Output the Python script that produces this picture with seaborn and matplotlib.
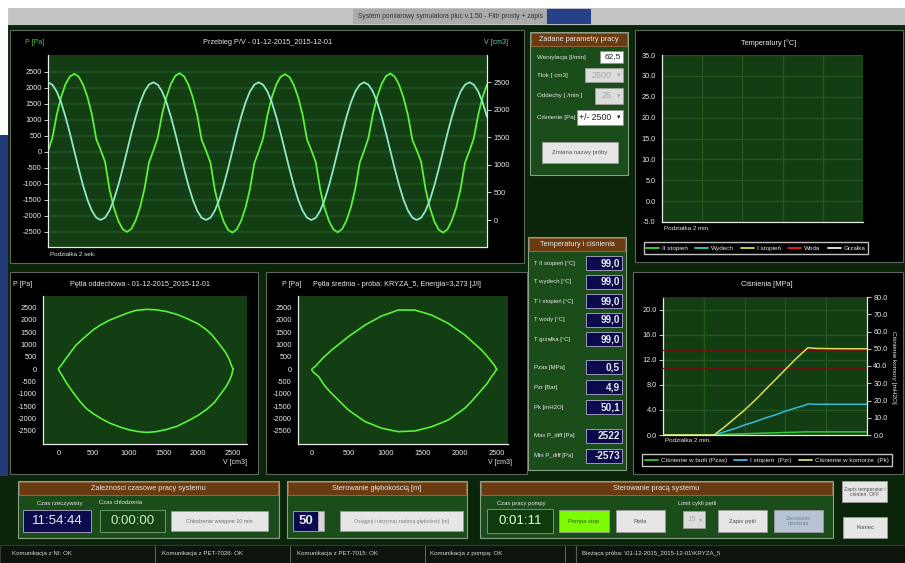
import numpy as np
import pandas as pd
import matplotlib
matplotlib.use("Agg")
import matplotlib.pyplot as plt
import seaborn as sns
from matplotlib.patches import Rectangle
from matplotlib.lines import Line2D

W, H = 905, 563

# ---------------- dane ----------------
# przebieg P/V, probki co 0.2 s
t_sek = np.round(np.arange(0, 20.01, 0.2), 1)
cisnienie_pa = [
    20, 430, 1160, 1710, 2110, 2350, 2430, 2340, 2090, 1700, 1160, 390,
    50, -320, -1170, -1750, -2160, -2420, -2510, -2410, -2140, -1730, -1150, -340,
    30, 440, 1170, 1720, 2120, 2370, 2450, 2350, 2090, 1690, 1140, 370,
    30, -340, -1190, -1770, -2180, -2440, -2530, -2430, -2160, -1750, -1170, -360,
    10, 420, 1150, 1700, 2100, 2340, 2420, 2330, 2080, 1690, 1150, 380,
    40, -330, -1180, -1760, -2170, -2430, -2520, -2420, -2150, -1740, -1160, -350,
    20, 430, 1170, 1720, 2120, 2360, 2440, 2340, 2080, 1680, 1140, 370,
    40, -320, -1170, -1760, -2180, -2440, -2530, -2430, -2150, -1740, -1150, -340,
    20, 420, 1150, 1710, 2100,
]
objetosc_cm3 = [
    2498, 2455, 2330, 2131, 1872, 1571, 1248, 925, 623, 364, 167, 41,
    2, 43, 170, 368, 627, 928, 1252, 1576, 1877, 2136, 2334, 2458,
    2499, 2456, 2332, 2133, 1874, 1573, 1249, 924, 624, 365, 166, 40,
    1, 42, 169, 367, 626, 927, 1251, 1575, 1876, 2135, 2333, 2457,
    2500, 2455, 2331, 2132, 1873, 1572, 1250, 926, 625, 366, 168, 42,
    0, 41, 167, 365, 624, 925, 1249, 1573, 1874, 2133, 2332, 2456,
    2499, 2456, 2333, 2134, 1875, 1574, 1251, 927, 626, 367, 169, 43,
    1, 42, 168, 366, 625, 926, 1250, 1574, 1875, 2134, 2333, 2457,
    2500, 2456, 2332, 2133, 1874,
]

# petla oddechowa (V, P)
petla1_v = [2500, 2470, 2450, 2400, 2310, 2200, 2120, 2000, 1830, 1700, 1550, 1400, 1260,
            1100, 1020, 900, 740, 600, 500, 360, 250, 170, 100, 40, 10, 0,
            10, 40, 120, 200, 310, 400, 500, 600, 740, 900, 1020, 1150, 1260,
            1400, 1550, 1700, 1830, 2000, 2120, 2230, 2310, 2400, 2450, 2480, 2500]
petla1_p = [-10, 200, 370, 640, 990, 1380, 1590, 1830, 2060, 2210, 2330, 2400, 2420,
            2370, 2300, 2170, 1990, 1780, 1590, 1250, 960, 660, 390, 150, 50, 0,
            -60, -200, -580, -910, -1320, -1600, -1810, -1990, -2200, -2370, -2470, -2540, -2570,
            -2540, -2450, -2320, -2140, -1880, -1640, -1370, -1060, -720, -460, -250, -10]

# petla srednia (V, P)
petla2_v = [2500, 2470, 2430, 2370, 2295, 2180, 2070, 1845, 1620, 1395, 1170, 945, 720, 495,
            270, 150, 45, 10, 0,
            10, 30, 95, 180, 270, 495, 720, 945, 1170, 1395, 1620, 1845, 2070, 2180, 2295,
            2370, 2430, 2470, 2500]
petla2_p = [-10, 150, 300, 520, 770, 1080, 1380, 1850, 2190, 2390, 2390, 2150, 1780, 1310,
            770, 440, 95, 20, -20,
            -80, -150, -310, -700, -990, -1660, -2130, -2400, -2540, -2510, -2340, -2070, -1590, -1250, -850,
            -590, -310, -150, -10]

# cisnienia [MPa] / [mH2O] w funkcji czasu [min]
czas_min = [0, 2.5, 3.0, 3.5, 4.0, 4.5, 5.0, 5.5, 6.0, 6.5, 7.0, 7.1, 7.5, 8.0, 9.0, 10.0]
p_zas = [0, 0, 0.1, 0.15, 0.2, 0.25, 0.3, 0.35, 0.4, 0.45, 0.5, 0.5, 0.5, 0.5, 0.5, 0.5]
p_zr = [0, 0, 0.5, 1.0, 1.6, 2.1, 2.7, 3.2, 3.8, 4.3, 4.8, 4.95, 4.9, 4.9, 4.9, 4.9]
p_k = [0, 0, 4.5, 9.5, 14.5, 20.0, 26.0, 32.0, 38.0, 44.0, 49.5, 50.6, 50.2, 50.1, 50.0, 50.0]
limity_k = [80, 49.0, 39]

temp_serie = ["II stopień", "Wydech", "I stopień", "Woda", "Grzałka"]
temp_kolory = ["#33dd33", "#33cccc", "#dddd44", "#ee2222", "#eeeeee"]
cisn_serie = ["Ciśnienie w butli (Pzas)", "I stopień  (Pzr)", "Ciśnienie w komorze  (Pk)"]
cisn_kolory = ["#33cc33", "#33bbdd", "#dcdc5a"]

odczyty_etykiety = ["T II stopień [°C]", "T wydech [°C]", "T I stopień [°C]", "T wody [°C]",
                    "T grzałka [°C]", "Pzas [MPa]", "Pzr [Bar]", "Pk [mH2O]",
                    "Max P_diff [Pa]", "Min P_diff [Pa]"]
odczyty_wartosci = ["99,0", "99,0", "99,0", "99,0", "99,0", "0,5", "4,9", "50,1", "2522", "-2573"]
odczyty_y = [263, 282, 301, 320, 339, 367, 387, 407, 436, 456]

# ---------------- wyglad ----------------
sns.set_style("dark")
plt.rcParams["font.family"] = ["Liberation Sans", "DejaVu Sans"]
plt.rcParams["axes.unicode_minus"] = False

BG = "#0b250b"
PANEL = "#1b4d1b"
PLOT_G = "#133e13"
HEAD = "#6a3a10"
NAVY = "#0a0a4c"
WHITE = "#e8e8e8"

fig = plt.figure(figsize=(W / 100, H / 100), dpi=100, facecolor=BG)
bg = fig.add_axes([0, 0, 1, 1])
bg.set_xlim(0, W)
bg.set_ylim(H, 0)
bg.axis("off")


def rect(x0, y0, x1, y1):
    return [x0 / W, 1 - y1 / H, (x1 - x0) / W, (y1 - y0) / H]


def prost(x0, y0, x1, y1, fc, ec=None, lw=0.8):
    bg.add_patch(Rectangle((x0, y0), x1 - x0, y1 - y0, facecolor=fc,
                           edgecolor=ec if ec else fc, lw=lw))


def napis(x, y, s, size=5, color=WHITE, ha="left", **kw):
    bg.text(x, y, s, fontsize=size, color=color, ha=ha, va="center", **kw)


def panel(x0, y0, x1, y1, tytul):
    prost(x0, y0, x1, y1, PANEL, "#8a9e8a")
    prost(x0 + 1, y0 + 1, x1 - 1, y0 + 14, HEAD, "#a07048", lw=0.6)
    napis((x0 + x1) / 2, y0 + 7.5, tytul, size=5.3, ha="center")


def przycisk(x0, y0, x1, y1, s, fc="#e6e6e6", color="#505050", size=4.2):
    prost(x0, y0, x1, y1, fc, "#9a9a9a", lw=0.6)
    napis((x0 + x1) / 2, (y0 + y1) / 2, s, size=size, color=color, ha="center",
          linespacing=1.0)


# ramka okna
prost(0, 0, W, 8, "white")
prost(7, 8, W, 24, "#c4c4c4")
prost(353, 9, 547, 23, "#ababab")
prost(547, 9, 590, 23, "#26408a")
napis(450, 16, "System pomiarowy symulatora płuc v.1.50 - Filtr prosty + zapis",
      size=4.8, color="#303030", ha="center")
prost(0, 8, 7, 135, "white")
prost(0, 135, 7, 475, "#233a78")

# czarne panele wykresow
for b in [(10, 30, 524, 263), (635, 30, 903, 262), (10, 272, 258, 474),
          (266, 272, 527, 474), (633, 272, 903, 474)]:
    prost(*b, "#000000", "#5c665c", lw=0.8)


def styl(ax, lewa=True, dol=True, prawa=False):
    ax.set_facecolor(PLOT_G)
    for s in ax.spines.values():
        s.set_visible(False)
    for nazwa, wid in [("left", lewa), ("bottom", dol), ("right", prawa)]:
        if wid:
            ax.spines[nazwa].set_visible(True)
            ax.spines[nazwa].set_color(WHITE)
            ax.spines[nazwa].set_linewidth(0.9)
    ax.tick_params(colors=WHITE, labelsize=5.3, length=3, width=0.6, pad=1.5)
    ax.set(xlabel="", ylabel="")


# ---- przebieg P/V ----
ax = fig.add_axes(rect(48, 55, 487, 247))
sns.lineplot(x=t_sek, y=cisnienie_pa, ax=ax, color="#5cf03c", lw=1.3)
styl(ax)
ax.set_xlim(0, 20)
ax.set_ylim(-2980, 3020)
ax.set_xticks(np.arange(0, 21, 2))
ax.set_xticklabels([])
ax.set_yticks(range(-2500, 2501, 500))
ax.yaxis.grid(True, color="#1e521e", lw=1.4)
ax.xaxis.grid(False)
ax2 = ax.twinx()
sns.lineplot(x=t_sek, y=objetosc_cm3, ax=ax2, color="#8fe8c8", lw=1.3)
styl(ax2, lewa=False, dol=False, prawa=True)
ax2.set_facecolor("none")
ax2.set_ylim(-490, 2995)
ax2.set_yticks(range(0, 2501, 500))
ax2.grid(False)
napis(25, 43, "P [Pa]", size=5, color="#33dd33")
napis(508, 43, "V [cm3]", size=5, color="#55ddaa", ha="right")
napis(268, 43, "Przebieg P/V - 01-12-2015_2015-12-01", size=5.3, ha="center")
napis(50, 254, "Podziałka 2 sek.", size=4.5)

# ---- temperatury ----
axt = fig.add_axes(rect(662, 55, 863, 222))
styl(axt)
axt.set_xlim(0, 10)
axt.set_ylim(-5, 35)
axt.set_xticks(range(0, 11, 2))
axt.set_xticklabels([])
axt.set_yticks(range(-5, 36, 5))
axt.set_yticklabels([f"{v:.1f}" for v in range(-5, 36, 5)])
axt.grid(True, color="#235823", lw=0.9)
napis(769, 43, "Temperatury [°C]", size=5.3, ha="center")
napis(664, 229, "Podziałka 2 min.", size=4.5)
fig.legend([Line2D([], [], color=c, lw=1.3) for c in temp_kolory], temp_serie,
           loc="center", bbox_to_anchor=(756 / W, 1 - 248 / H), ncol=5, fontsize=4.6,
           labelcolor=WHITE, facecolor="black", edgecolor="#c0c0c0", framealpha=1,
           fancybox=False, handlelength=2.0, columnspacing=1.1, borderpad=0.45,
           handletextpad=0.5)

# ---- petle ----
for (x0, x1, xl, vv, pp, tytul, tx, px, vx) in [
    (43, 247, (-220, 2700), petla1_v, petla1_p,
     "Pętla oddechowa - 01-12-2015_2015-12-01", 140, 13, 247),
    (298, 508, (-185, 2653), petla2_v, petla2_p,
     "Pętla średnia - próba: KRYZA_5, Energia=3,273 [J/l]", 397, 282, 512)]:
    axl = fig.add_axes(rect(x0, 296, x1, 444))
    sns.lineplot(x=vv, y=pp, ax=axl, sort=False, estimator=None, color="#5cf03c", lw=1.2)
    styl(axl)
    axl.set_xlim(*xl)
    axl.set_ylim(-3040, 2960)
    axl.set_xticks(range(0, 2501, 500))
    axl.set_yticks(range(-2500, 2501, 500))
    axl.grid(False)
    napis(px, 285, "P [Pa]", size=5)
    napis(tx, 285, tytul, size=5.2, ha="center")
    napis(vx, 463, "V [cm3]", size=5, ha="right")

# ---- cisnienia ----
axc = fig.add_axes(rect(663, 297, 867, 435))
df = pd.DataFrame({"czas": czas_min * 2, "wartosc": p_zas + p_zr,
                   "seria": [cisn_serie[0]] * len(czas_min) + [cisn_serie[1]] * len(czas_min)})
sns.lineplot(data=df, x="czas", y="wartosc", hue="seria", ax=axc,
             palette=cisn_kolory[:2], lw=1.1, legend=False)
styl(axc)
axc.set_xlim(0, 10)
axc.set_ylim(0, 22)
axc.set_xticks(range(0, 11, 2))
axc.set_xticklabels([])
axc.set_yticks(range(0, 21, 4))
axc.set_yticklabels([f"{v:.1f}" for v in range(0, 21, 4)])
axc.grid(True, color="#235823", lw=0.9)
axc2 = axc.twinx()
for lim in limity_k:
    axc2.axhline(lim, color="#6a1212", lw=1.0)
sns.lineplot(x=czas_min, y=p_k, ax=axc2, color=cisn_kolory[2], lw=1.1)
styl(axc2, lewa=False, dol=False, prawa=True)
axc2.set_facecolor("none")
axc2.set_ylim(0, 80)
axc2.set_yticks(range(0, 81, 10))
axc2.set_yticklabels([f"{v:.1f}" for v in range(0, 81, 10)])
axc2.grid(False)
napis(767, 285, "Ciśnienia [MPa]", size=5.3, ha="center")
napis(665, 441, "Podziałka 2 min.", size=4.5)
napis(893, 367, "Ciśnienie komory [mH2O]", size=4.6, ha="center", rotation=270)
fig.legend([Line2D([], [], color=c, lw=1.3) for c in cisn_kolory], cisn_serie,
           loc="center", bbox_to_anchor=(767 / W, 1 - 460 / H), ncol=3, fontsize=4.6,
           labelcolor=WHITE, facecolor="black", edgecolor="#c0c0c0", framealpha=1,
           fancybox=False, handlelength=2.0, columnspacing=1.1, borderpad=0.45,
           handletextpad=0.5)

# ---- zadane parametry pracy ----
panel(530, 32, 628, 175, "Zadane parametry pracy")
napis(537, 57, "Wentylacja [l/min]", size=4.5)
prost(600, 51, 623, 63, "white", "#909090", lw=0.5)
napis(621, 57, "62,5", size=6, color="#202020", ha="right")
napis(537, 75, "Tłok [ cm3]", size=4.5)
prost(585, 68, 623, 82, "#dcdcdc", "#a0a0a0", lw=0.5)
napis(612, 75, "2500", size=6.5, color="#a8a8a8", ha="right")
napis(537, 96, "Oddechy [ /min ]", size=4.5)
prost(595, 88, 623, 104, "#dcdcdc", "#a0a0a0", lw=0.5)
napis(612, 96, "25", size=6.5, color="#a8a8a8", ha="right")
napis(537, 117, "Ciśnienie [Pa]", size=4.5)
prost(577, 110, 623, 125, "white", "#909090", lw=0.5)
napis(579, 117.5, "+/- 2500", size=6.3, color="#202020")
for yy, kol in [(75, "#a8a8a8"), (96, "#a8a8a8"), (117.5, "#202020")]:
    napis(619, yy, "▾", size=5, color=kol, ha="center", family=["DejaVu Sans"])
przycisk(542, 142, 618, 163, "Zmiana nazwy próby", size=4.3)

# ---- temperatury i cisnienia ----
panel(528, 237, 626, 470, "Temperatury i ciśnienia")
for lab, wart, yy in zip(odczyty_etykiety, odczyty_wartosci, odczyty_y):
    napis(534, yy, lab, size=4.3)
    prost(586, yy - 7, 622, yy + 7, NAVY, "#9a9ab8", lw=0.7)
    napis(620, yy, wart, size=7.2, ha="right", weight="bold")

# ---- dolne panele ----
panel(18, 481, 279, 538, "Zależności czasowe pracy systemu")
napis(60, 503, "Czas rzeczywisty", size=4.2, ha="center")
prost(23, 510, 91, 532, NAVY, "#9a9ab8", lw=0.7)
napis(57, 521.5, "11:54:44", size=9.5, ha="center")
napis(121, 503, "Czas chłodzenia", size=4.2, ha="center")
prost(100, 510, 165, 532, "#164416", "#6a9a6a", lw=0.7)
napis(132.5, 521.5, "0:00:00", size=9.5, color="#c8f0c8", ha="center")
przycisk(171, 511, 268, 531, "Chłodzenie wstępne 10 min", size=3.9, color="#707070")

panel(287, 481, 467, 538, "Sterowanie głębokością [m]")
prost(293, 511, 318, 531, NAVY, "#9a9ab8", lw=0.7)
napis(305.5, 521.5, "50", size=9.5, ha="center", weight="bold")
prost(318, 511, 324, 531, "#d8d8d8", "#a0a0a0", lw=0.5)
przycisk(340, 511, 463, 531, "Osiągnij i utrzymaj zadaną głębokość [m]", size=3.7,
         color="#808080")

panel(480, 481, 833, 538, "Sterowanie pracą systemu")
napis(521, 503, "Czas pracy pompy", size=4.2, ha="center")
prost(487, 509, 553, 533, "#0e3a0e", "#6a9a6a", lw=0.7)
napis(520, 521.5, "0:01:11", size=9.5, color="#e0ffe0", ha="center")
przycisk(559, 510, 609, 532, "Pompa stop", fc="#7cfc00", color="#306010", size=4.2)
przycisk(616, 510, 665, 532, "Pętla", size=4.2)
napis(697, 503, "Limit cykli pętli", size=4.2, ha="center")
prost(683, 511, 705, 528, "#dcdcdc", "#a0a0a0", lw=0.5)
napis(692, 519.5, "15", size=5.5, color="#a8a8a8", ha="center")
napis(701, 519.5, "▾", size=4.5, color="#a8a8a8", ha="center", family=["DejaVu Sans"])
przycisk(718, 510, 767, 532, "Zapis pętli", size=4.2)
przycisk(774, 510, 823, 532, "Zerowanie\nciśnienia", fc="#b8c4d6", color="#7080a0", size=3.9)

przycisk(842, 481, 887, 502, "Zapis temperatur i\nciśnień: OFF", size=3.7)
przycisk(843, 517, 887, 538, "Koniec", size=4.2)

# ---- pasek stanu ----
prost(0, 545, W, 563, "#0e130e", "#3a443a", lw=0.6)
for xs in [155, 290, 425, 565, 576]:
    bg.plot([xs, xs], [546, 563], color="#5a645a", lw=0.8)
for xs, s in [(12, "Komunikacja z NI: OK"), (162, "Komunikacja z PET-7026: OK"),
              (297, "Komunikacja z PET-7015: OK"), (430, "Komunikacja z pompą: OK"),
              (582, "Bieżąca próba: \\01-12-2015_2015-12-01\\KRYZA_5")]:
    napis(xs, 554, s, size=4.4, color="#d8d8d8")

fig.savefig("out.png", dpi=100, facecolor=BG)
